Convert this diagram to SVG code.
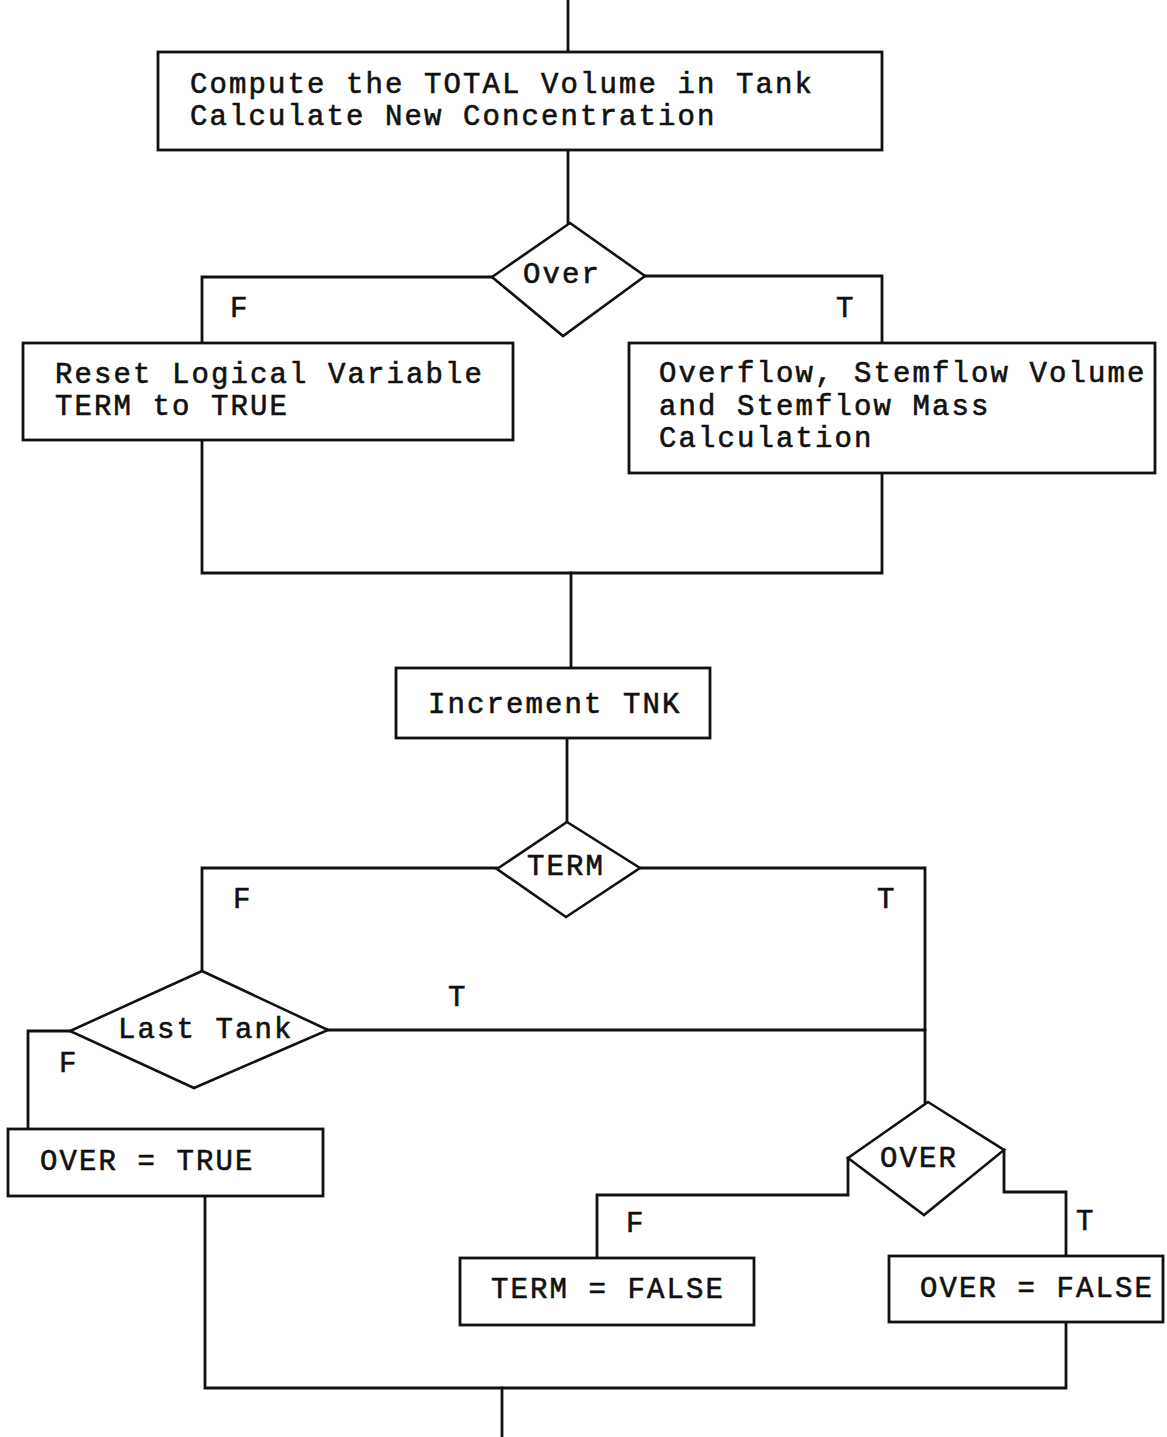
<svg xmlns="http://www.w3.org/2000/svg" width="1167" height="1437" viewBox="0 0 1167 1437">
  <style>
    .box { fill: #ffffff; stroke: #111111; stroke-width: 2.8; }
    .dia { fill: #ffffff; stroke: #111111; stroke-width: 2.6; stroke-linejoin: miter; }
    .wire { fill: none; stroke: #111111; stroke-width: 2.8; stroke-linejoin: miter; stroke-linecap: square; }
    text { font-family: "Liberation Mono", "DejaVu Sans Mono", monospace; font-size: 29px; letter-spacing: 2.1px; fill: #111111; stroke: #111111; stroke-width: 0.6; }
  </style>
  <rect width="1167" height="1437" fill="#ffffff"/>

  <!-- connectors -->
  <g id="connectors">
    <path class="wire" d="M568 0 V52"/>
    <path class="wire" d="M568 150 V223"/>
    <path class="wire" d="M492 277 H202 V343"/>
    <path class="wire" d="M645 276 H882 V343"/>
    <path class="wire" d="M202 440 V573 H882 V473"/>
    <path class="wire" d="M571 573 V668"/>
    <path class="wire" d="M567 738 V822"/>
    <path class="wire" d="M497 868 H202 V971"/>
    <path class="wire" d="M640 868 H925 V1102"/>
    <path class="wire" d="M328 1030 H925"/>
    <path class="wire" d="M70 1031 H28 V1129"/>
    <path class="wire" d="M848 1158 V1195 H597 V1258"/>
    <path class="wire" d="M1004 1150 V1192 H1066 V1256"/>
    <path class="wire" d="M205 1196 V1388 H1066 V1322"/>
    <path class="wire" d="M502 1388 V1437"/>
  </g>

  <!-- branch labels -->
  <g id="labels">
    <text x="230" y="317">F</text>
    <text x="836" y="317">T</text>
    <text x="233" y="908">F</text>
    <text x="877" y="908">T</text>
    <text x="448" y="1006">T</text>
    <text x="59" y="1072">F</text>
    <text x="626" y="1232">F</text>
    <text x="1076" y="1230">T</text>
  </g>

  <g id="compute-volume">
    <rect class="box" x="158" y="52" width="724" height="98"/>
    <text x="190" y="93">Compute the TOTAL Volume in Tank</text>
    <text x="190" y="125">Calculate New Concentration</text>
  </g>

  <g id="over-decision">
    <polygon class="dia" points="570,223 645,276 563,336 492,277"/>
    <text x="523" y="283">Over</text>
  </g>

  <g id="reset-term">
    <rect class="box" x="23" y="343" width="490" height="97"/>
    <text x="55" y="383">Reset Logical Variable</text>
    <text x="55" y="415">TERM to TRUE</text>
  </g>

  <g id="overflow-calc">
    <rect class="box" x="629" y="343" width="526" height="130"/>
    <text x="659" y="382">Overflow, Stemflow Volume</text>
    <text x="659" y="415">and Stemflow Mass</text>
    <text x="659" y="447">Calculation</text>
  </g>

  <g id="increment-tnk">
    <rect class="box" x="396" y="668" width="314" height="70"/>
    <text x="428" y="713">Increment TNK</text>
  </g>

  <g id="term-decision">
    <polygon class="dia" points="567,822 640,868 566,917 497,869"/>
    <text x="527" y="875">TERM</text>
  </g>

  <g id="last-tank-decision">
    <polygon class="dia" points="202,971 328,1030 194,1088 70,1031"/>
    <text x="118" y="1038">Last Tank</text>
  </g>

  <g id="over-true">
    <rect class="box" x="8" y="1129" width="315" height="67"/>
    <text x="40" y="1170">OVER = TRUE</text>
  </g>

  <g id="over-check-decision">
    <polygon class="dia" points="928,1102 1004,1150 924,1215 848,1158"/>
    <text x="880" y="1167">OVER</text>
  </g>

  <g id="term-false">
    <rect class="box" x="460" y="1258" width="294" height="67"/>
    <text x="491" y="1298">TERM = FALSE</text>
  </g>

  <g id="over-false">
    <rect class="box" x="889" y="1256" width="274" height="66"/>
    <text x="920" y="1297">OVER = FALSE</text>
  </g>
</svg>
